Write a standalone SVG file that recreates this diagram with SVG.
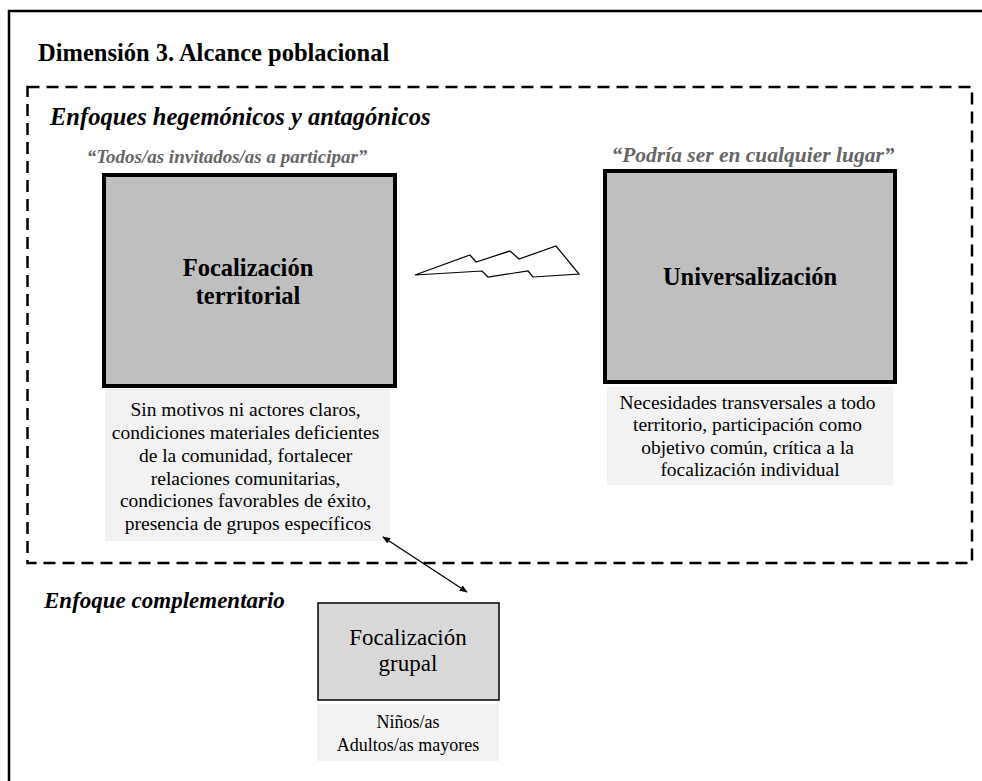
<svg xmlns="http://www.w3.org/2000/svg" width="982" height="781" viewBox="0 0 982 781">
<style>
.t{font-family:"Liberation Serif","Times New Roman",serif;fill:#000}
.b{font-weight:bold}
.i{font-style:italic}
.q{font-family:"Liberation Serif","Times New Roman",serif;font-weight:bold;font-style:italic;fill:#666}
.main{fill:#bfbfbf;stroke:#000;stroke-width:4}
.desc{fill:#f2f2f2}
.d{font-size:19.5px}
</style>
<defs>
<marker id="ah" viewBox="0 0 10 10" refX="9" refY="5" markerWidth="8" markerHeight="8" orient="auto-start-reverse" markerUnits="userSpaceOnUse">
<path d="M0,1 L10,5 L0,9 z" fill="#000"/>
</marker>
</defs>
<rect x="9" y="11" width="1000" height="800" fill="none" stroke="#000" stroke-width="2.5"/>
<text class="t b" x="38" y="61" font-size="24.5">Dimensión 3. Alcance poblacional</text>
<rect x="27.5" y="87" width="944.5" height="476" fill="none" stroke="#000" stroke-width="2.5" stroke-dasharray="12,7"/>
<text class="t b i" x="50" y="125" font-size="24.5">Enfoques hegemónicos y antagónicos</text>
<text class="t b i" x="44" y="608" font-size="23">Enfoque complementario</text>

<g id="focalizacion-territorial">
<text class="q" x="227" y="163" font-size="19" text-anchor="middle">“Todos/as invitados/as a participar”</text>
<rect class="main" x="104" y="175" width="291" height="211"/>
<text class="t b" font-size="24.5" text-anchor="middle"><tspan x="248" y="276">Focalización</tspan><tspan x="248" y="304">territorial</tspan></text>
<rect class="desc" x="105" y="389" width="285" height="152"/>
<text class="t d" text-anchor="middle">
<tspan x="248" y="416">Sin motivos ni actores claros,</tspan>
<tspan x="248" y="439">condiciones materiales deficientes</tspan>
<tspan x="248" y="462">de la comunidad, fortalecer</tspan>
<tspan x="248" y="485">relaciones comunitarias,</tspan>
<tspan x="248" y="507">condiciones favorables de éxito,</tspan>
<tspan x="248" y="530">presencia de grupos específicos</tspan>
</text>
</g>

<g id="universalizacion">
<text class="q" x="753" y="162" font-size="21.5" text-anchor="middle">“Podría ser en cualquier lugar”</text>
<rect class="main" x="605" y="171" width="290" height="211"/>
<text class="t b" x="750" y="285" font-size="24.5" text-anchor="middle">Universalización</text>
<rect class="desc" x="607" y="387" width="286" height="98"/>
<text class="t d" text-anchor="middle">
<tspan x="750" y="409">Necesidades transversales a todo</tspan>
<tspan x="750" y="431">territorio, participación como</tspan>
<tspan x="750" y="454">objetivo común, crítica a la</tspan>
<tspan x="750" y="476">focalización individual</tspan>
</text>
</g>

<g id="focalizacion-grupal">
<rect x="318" y="603" width="181" height="97" fill="#d9d9d9" stroke="#000" stroke-width="1.5"/>
<text class="t" font-size="23" text-anchor="middle"><tspan x="408" y="645">Focalización</tspan><tspan x="408" y="671">grupal</tspan></text>
<rect class="desc" x="317" y="704" width="182" height="57"/>
<text class="t" font-size="18" text-anchor="middle"><tspan x="408" y="728">Niños/as</tspan><tspan x="408" y="751">Adultos/as mayores</tspan></text>
</g>

<g id="connectors">
<path d="M415,275 L470,255 L476,262 L510,251 L519,259 L556,246 L579,274 L533,277 L528,271 L488,277 L482,271 Z" fill="#fff" stroke="#000" stroke-width="1.2" stroke-linejoin="miter"/>
<line x1="383" y1="537" x2="467" y2="592" stroke="#000" stroke-width="1.3" marker-start="url(#ah)" marker-end="url(#ah)"/>
</g>
</svg>
